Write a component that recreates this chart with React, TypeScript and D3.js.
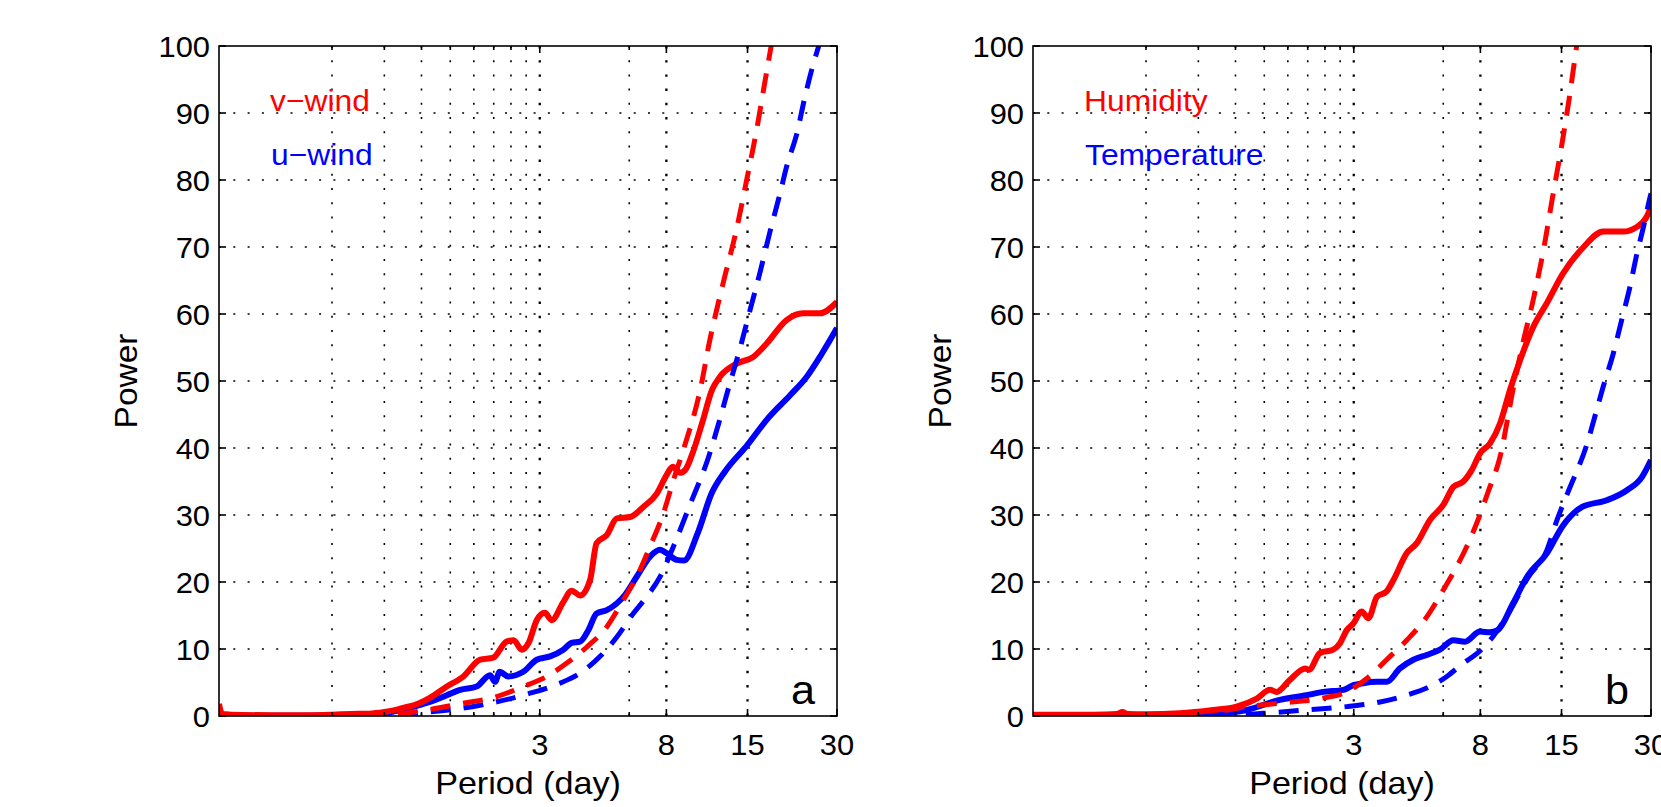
import * as d3 from "d3";
import React from "react";

// ---- data: [period (day), power] ----
const vWind: [number, number][] = [
  [0.25, 1.8], [0.256, 0.3], [0.3, 0.15], [0.4, 0.1], [0.5, 0.12], [0.6, 0.2], [0.7, 0.3],
  [0.8, 0.35], [0.9, 0.6], [1.0, 1.0], [1.08, 1.4], [1.13, 1.6], [1.28, 2.7], [1.46, 4.4],
  [1.66, 5.9], [1.89, 8.4], [2.09, 8.7], [2.32, 11.1], [2.45, 11.3], [2.61, 9.9], [2.75, 10.9],
  [2.93, 14.3], [3.12, 15.4], [3.29, 14.3], [3.6, 17], [3.84, 18.7], [4.1, 18], [4.43, 20.3],
  [4.66, 25.8], [5.04, 27], [5.45, 29.5], [6.04, 29.7], [6.69, 31.2], [7.43, 33.2], [8.02, 36],
  [8.4, 37.2], [8.9, 36.3], [9.25, 36.7], [9.76, 39], [10.55, 43.7], [11.4, 48.7], [12.1, 50.6],
  [13.8, 52.6], [15.7, 53.6], [17.4, 55.6], [20.3, 59.1], [23.1, 60.1], [26.3, 60.1], [30, 61.8],
];
const uWind: [number, number][] = [
  [0.25, 0.05], [0.4, 0.05], [0.6, 0.08], [0.8, 0.2], [0.9, 0.4], [1.0, 0.8], [1.13, 1.4],
  [1.28, 2.1], [1.46, 3.1], [1.62, 3.9], [1.84, 4.4], [2.04, 6.1], [2.12, 5.1], [2.2, 6.6],
  [2.35, 5.9], [2.64, 6.6], [2.93, 8.4], [3.25, 8.9], [3.6, 9.9], [3.84, 10.9], [4.1, 11.1],
  [4.37, 12.8], [4.66, 15.3], [5.04, 15.8], [5.81, 18.1], [6.36, 20.8], [7.05, 23.8],
  [7.62, 24.8], [8.02, 24.3], [8.67, 23.3], [9.17, 23.2], [10.2, 27.3], [11.35, 33.2],
  [12.6, 36.5], [14.95, 40.4], [17.4, 44.2], [20.9, 47.9], [23.7, 50.6], [26.7, 54.1], [30, 57.9],
];
const vWindFit: [number, number][] = [
  [1.0, 0.3], [1.13, 0.6], [1.66, 1.9], [2.15, 2.9], [2.64, 4.4], [3.17, 5.9], [3.7, 7.9],
  [4.32, 10.3], [5.04, 13.3], [5.73, 17.3], [6.36, 20.8], [7.05, 25.3], [7.81, 30.2],
  [8.45, 35.2], [9.12, 39.7], [10.4, 48.7], [11.2, 56.1], [12.4, 64.5], [13.8, 72.8],
  [14.9, 80], [16.1, 87.5], [17.2, 94.9], [18, 99.9], [19, 106],
];
const uWindFit: [number, number][] = [
  [1.0, 0.2], [1.13, 0.4], [1.89, 1.6], [2.78, 3.4], [3.51, 4.9], [4.1, 6.4], [4.79, 8.9],
  [5.45, 11.8], [6.19, 15.3], [6.87, 17.8], [7.62, 20.8], [8.45, 25.3], [9.6, 31.5],
  [11.1, 38.7], [12.0, 43.7], [12.9, 48.7], [14.2, 55.1], [15.3, 60.6], [16.5, 66.1],
  [17.9, 72.5], [19.3, 78], [20.3, 82], [22.0, 87], [23.4, 92.4], [25.0, 97.4], [26.0, 99.9],
  [27.5, 104],
];
const humidity: [number, number][] = [
  [0.25, 0.2], [0.4, 0.2], [0.48, 0.3], [0.5, 0.6], [0.52, 0.3], [0.6, 0.25], [0.78, 0.4],
  [1.01, 0.9], [1.21, 1.4], [1.415, 2.6], [1.568, 3.9], [1.65, 3.6], [1.83, 5.4], [2.06, 7.1],
  [2.12, 6.9], [2.31, 9.4], [2.56, 9.9], [2.7, 10.9], [2.84, 12.8], [2.99, 13.8], [3.19, 15.6],
  [3.36, 14.6], [3.59, 17.8], [3.87, 18.6], [4.08, 20.3], [4.52, 24.3], [4.89, 25.8],
  [5.42, 29.3], [6.0, 31.5], [6.49, 34.2], [7.01, 35.0], [7.48, 36.7], [7.98, 39.2],
  [8.62, 40.7], [9.32, 43.7], [10.07, 48.7], [10.88, 53.1], [12.06, 58.1], [13.38, 61.6],
  [15.2, 66.1], [17.8, 70.0], [20.7, 72.3], [24.2, 72.3], [26.9, 73], [29, 74.5], [30, 76],
];
const temperature: [number, number][] = [
  [0.25, 0.02], [0.6, 0.03], [0.9, 0.1], [1.1, 0.4], [1.31, 0.9], [1.69, 2.4], [2.08, 3.1],
  [2.37, 3.6], [2.77, 3.9], [2.99, 4.6], [3.23, 4.9], [3.59, 5.1], [3.87, 5.1], [4.29, 7.1],
  [4.76, 8.4], [5.28, 9.1], [5.85, 9.9], [6.49, 11.3], [7.1, 11.1], [7.98, 12.6], [8.6, 12.5],
  [9.14, 12.8], [10.3, 16.8], [11.5, 20.8], [13.4, 24.3], [15.1, 28.3], [17.6, 31.2],
  [21.3, 32.2], [24.9, 33.7], [28.0, 35.7], [30, 38.2],
];
const humidityFit: [number, number][] = [
  [1.1, 0.8], [1.31, 1.4], [1.69, 1.9], [2.31, 2.6], [2.84, 3.6], [3.32, 5.6], [3.87, 8.4],
  [4.52, 11.3], [5.28, 14.8], [6.0, 18.8], [6.66, 22.3], [7.2, 25.3], [7.78, 28.8],
  [8.5, 33.5], [9.32, 38.7], [10.3, 48.7], [11.1, 55.5], [12.1, 62.5], [13.1, 70],
  [14.0, 77.5], [15.0, 85], [15.9, 92], [16.8, 99.5], [17.5, 105],
];
const temperatureFit: [number, number][] = [
  [1.3, 0.2], [1.49, 0.4], [2.08, 0.9], [2.84, 1.4], [3.68, 2.1], [4.52, 3.1], [5.42, 4.4],
  [6.17, 5.9], [7.01, 7.9], [7.78, 9.3], [8.8, 11.8], [10.3, 16.5], [11.5, 20.5], [13.4, 24.8],
  [14.5, 29.3], [15.7, 33.2], [18.3, 40.7], [19.7, 45.7], [20.7, 49.1], [22.4, 54.1],
  [23.9, 59.1], [25.5, 64.1], [26.9, 69.0], [28.3, 73.0], [29.8, 77.5], [30, 78],
];

const xTicks = [3, 8, 15, 30];
const xMinor = [0.6, 0.9, 1.2, 1.5, 1.8, 2.1, 2.4, 2.7, 6];
const yTicks = [0, 10, 20, 30, 40, 50, 60, 70, 80, 90, 100];

const RED = "#ff0000";
const BLUE = "#0000ff";
const FONT = "'Liberation Sans', Arial, Helvetica, sans-serif";

const TOP = 46;
const BOTTOM = 716;
const PW = 618;

function Txt(props: {
  x: number; y: number; size: number; anchor?: string; fill?: string; rotate?: number;
  sx?: number; children: React.ReactNode;
}) {
  const { x, y, size, anchor = "start", fill = "#000", rotate = 0, sx = 1.06 } = props;
  return (
    <text
      transform={`translate(${x},${y}) rotate(${rotate}) scale(${sx},1)`}
      fontSize={size}
      fontFamily={FONT}
      textAnchor={anchor}
      fill={fill}
    >
      {props.children}
    </text>
  );
}

type PanelProps = {
  id: string;
  left: number;
  redSolid: [number, number][];
  blueSolid: [number, number][];
  redDash: [number, number][];
  blueDash: [number, number][];
  redName: string;
  blueName: string;
  letter: string;
};

function Panel(p: PanelProps) {
  const right = p.left + PW;
  const x = d3.scaleLog().domain([0.25, 30]).range([p.left, right]);
  const y = d3.scaleLinear().domain([0, 100]).range([BOTTOM, TOP]);
  const line = d3
    .line<[number, number]>()
    .x((d) => x(d[0]))
    .y((d) => y(d[1]))
    .curve(d3.curveMonotoneX);

  return (
    <g>
      <defs>
        <clipPath id={`clip-${p.id}`}>
          <rect x={p.left} y={TOP} width={PW} height={BOTTOM - TOP} />
        </clipPath>
      </defs>

      {/* grid */}
      {yTicks.slice(1, -1).map((v) => (
        <line key={"h" + v} x1={p.left} x2={right} y1={y(v)} y2={y(v)}
          stroke="#000" strokeWidth={1.6} strokeDasharray="2 12.3" />
      ))}
      {xMinor.map((v) => (
        <line key={"m" + v} x1={x(v)} x2={x(v)} y1={TOP} y2={BOTTOM}
          stroke="#000" strokeWidth={1.6} strokeDasharray="2 12.2" />
      ))}
      {xTicks.slice(0, -1).map((v) => (
        <line key={"M" + v} x1={x(v)} x2={x(v)} y1={TOP} y2={BOTTOM}
          stroke="#000" strokeWidth={2.3} strokeDasharray="2.4 11.8" />
      ))}

      {/* curves */}
      <g clipPath={`url(#clip-${p.id})`} fill="none" strokeLinejoin="round">
        <path d={line(p.blueSolid) ?? ""} stroke={BLUE} strokeWidth={6} />
        <path d={line(p.redSolid) ?? ""} stroke={RED} strokeWidth={6} />
        <path d={line(p.blueDash) ?? ""} stroke={BLUE} strokeWidth={5} strokeDasharray="20 13" />
        <path d={line(p.redDash) ?? ""} stroke={RED} strokeWidth={5} strokeDasharray="20 13" />
      </g>

      {/* box and ticks */}
      <rect x={p.left} y={TOP} width={PW} height={BOTTOM - TOP} fill="none" stroke="#000" strokeWidth={1.6} />
      {yTicks.map((v) => (
        <g key={"yt" + v}>
          <line x1={p.left} x2={p.left + 7} y1={y(v)} y2={y(v)} stroke="#000" strokeWidth={1.6} />
          <line x1={right} x2={right - 7} y1={y(v)} y2={y(v)} stroke="#000" strokeWidth={1.6} />
          <Txt x={p.left - 9} y={y(v) + 10.5} size={30} sx={1.03} anchor="end">{v}</Txt>
        </g>
      ))}
      {xMinor.map((v) => (
        <g key={"xm" + v}>
          <line x1={x(v)} x2={x(v)} y1={BOTTOM} y2={BOTTOM - 4} stroke="#000" strokeWidth={1.6} />
          <line x1={x(v)} x2={x(v)} y1={TOP} y2={TOP + 4} stroke="#000" strokeWidth={1.6} />
        </g>
      ))}
      {xTicks.map((v) => (
        <g key={"xt" + v}>
          <line x1={x(v)} x2={x(v)} y1={BOTTOM} y2={BOTTOM - 7} stroke="#000" strokeWidth={1.6} />
          <line x1={x(v)} x2={x(v)} y1={TOP} y2={TOP + 7} stroke="#000" strokeWidth={1.6} />
          <Txt x={x(v)} y={755} size={30} sx={1.03} anchor="middle">{v}</Txt>
        </g>
      ))}

      <Txt x={(p.left + right) / 2} y={794} size={31} sx={1.1} anchor="middle">Period (day)</Txt>
      <Txt x={p.left - 82} y={(TOP + BOTTOM) / 2} size={31} sx={1.08} anchor="middle" rotate={-90}>Power</Txt>

      <Txt x={p.left + 51} y={111} size={30} fill={RED}>{p.redName}</Txt>
      <Txt x={p.left + 52} y={165} size={30} fill={BLUE}>{p.blueName}</Txt>
      <Txt x={right - 22} y={704} size={40} sx={1.08} anchor="end">{p.letter}</Txt>
    </g>
  );
}

export default function App() {
  return (
    <svg
      width={1661}
      height={807}
      style={{ position: "absolute", left: 0, top: 0, background: "#fff" }}
    >
      <rect width={1661} height={807} fill="#fff" />
      <Panel id="a" left={219} redSolid={vWind} blueSolid={uWind} redDash={vWindFit}
        blueDash={uWindFit} redName="v−wind" blueName="u−wind" letter="a" />
      <Panel id="b" left={1033} redSolid={humidity} blueSolid={temperature} redDash={humidityFit}
        blueDash={temperatureFit} redName="Humidity" blueName="Temperature" letter="b" />
    </svg>
  );
}
